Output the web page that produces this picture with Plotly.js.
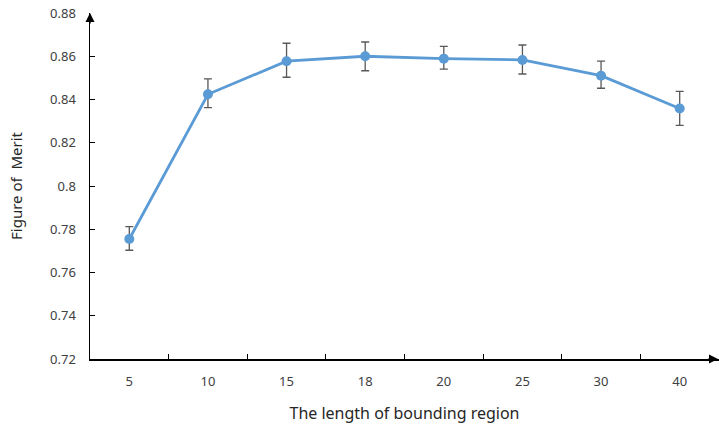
<!DOCTYPE html>
<html><head><meta charset="utf-8">
<script src="https://cdn.plot.ly/plotly-3.0.1.min.js"></script>
<style>html,body{margin:0;padding:0;background:#fff}#chart{width:719px;height:428px}</style>
</head><body><div id="chart"></div>
<script>
const categories = ["5","10","15","18","20","25","30","40"];
const meritValues = [0.7755, 0.8424, 0.8577, 0.8600, 0.8589, 0.8583, 0.8510, 0.8358];
const errorPlus  = [0.0057, 0.0071, 0.0083, 0.0066, 0.0057, 0.0069, 0.0067, 0.0080];
const errorMinus = [0.0052, 0.0062, 0.0074, 0.0067, 0.0049, 0.0065, 0.0058, 0.0078];
const yTicks = [0.72,0.74,0.76,0.78,0.8,0.82,0.84,0.86,0.88];
const yTickText = ["0.72","0.74","0.76","0.78","0.8","0.82","0.84","0.86","0.88"];

const trace = {
  x: categories, y: meritValues, type: "scatter", mode: "lines+markers",
  line: {color: "#5B9BD5", width: 2.8},
  marker: {color: "#5B9BD5", size: 10},
  error_y: {type: "data", symmetric: false, array: errorPlus, arrayminus: errorMinus,
            color: "#595959", thickness: 1.3, width: 4},
  cliponaxis: false
};
const font = {family: "Noto Sans, DejaVu Sans, sans-serif", size: 13, color: "#404040"};
const layout = {
  width: 719, height: 428,
  margin: {l: 90, r: 0, t: 13, b: 69},
  paper_bgcolor: "#fff", plot_bgcolor: "#fff",
  showlegend: false, font: font,
  xaxis: {type: "category", range: [-0.5, 7.5], showgrid: false, zeroline: false,
          showline: true, linecolor: "#000", linewidth: 1.5,
          ticks: "inside", ticklen: 5, tickcolor: "#000", tickson: "boundaries",
          ticklabelstandoff: 10, tickfont: {size: 13, color: "#404040"},
          title: {text: "The length of bounding region", standoff: 18, font: {size: 16, color: "#262626"}}},
  yaxis: {range: [0.72, 0.88], tickvals: yTicks, ticktext: yTickText, showgrid: false, zeroline: false,
          showline: true, linecolor: "#000", linewidth: 1.5,
          ticks: "inside", ticklen: 5, tickcolor: "#000",
          ticklabelstandoff: 10, tickfont: {size: 13, color: "#404040"},
          title: {text: "Figure of  Merit", standoff: 24, font: {size: 15, color: "#262626"}}},
  annotations: [
    {xref: "paper", yref: "paper", x: 0, y: 1.0, ax: 0, ay: 12, axref: "pixel", ayref: "pixel",
     showarrow: true, arrowhead: 2, arrowsize: 1.2, arrowwidth: 1.5, arrowcolor: "#000", text: ""},
    {xref: "paper", yref: "paper", x: 1.0, y: 0, ax: -12, ay: 0,
     showarrow: true, arrowhead: 2, arrowsize: 1.2, arrowwidth: 1.5, arrowcolor: "#000", text: ""}
  ]
};
Plotly.newPlot("chart", [trace], layout, {displayModeBar: false, staticPlot: true});
</script></body></html>
